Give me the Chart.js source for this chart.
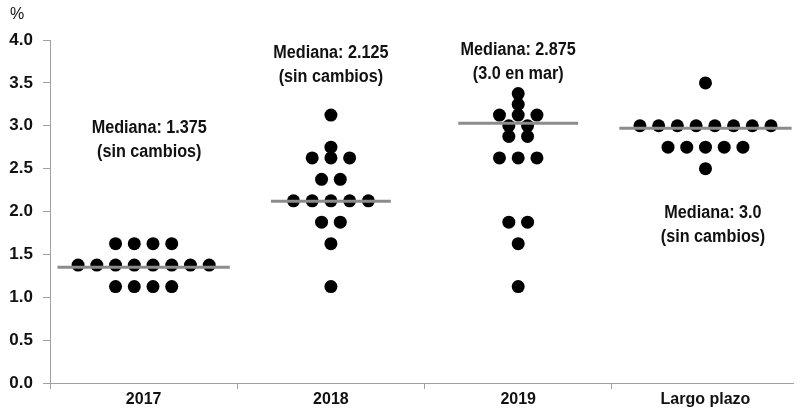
<!DOCTYPE html>
<html lang="es">
<head>
    <meta charset="UTF-8">
    <title>Mediana de proyecciones</title>
    <script src="https://cdn.jsdelivr.net/npm/chart.js"></script>
    <style>
        body { margin: 0; background: #fff; }
        #wrap { width: 800px; height: 410px; }
    </style>
</head>
<body>
<div id="wrap"><canvas id="dotChart"></canvas></div>

<script>
    // categories and one value per participant dot
    const categories = ['2017', '2018', '2019', 'Largo plazo'];
    const dots2017 = [1.625, 1.625, 1.625, 1.625,
        1.375, 1.375, 1.375, 1.375, 1.375, 1.375, 1.375, 1.375,
        1.125, 1.125, 1.125, 1.125];
    const dots2018 = [3.125, 2.75, 2.625, 2.625, 2.625, 2.375, 2.375,
        2.125, 2.125, 2.125, 2.125, 2.125, 1.875, 1.875, 1.625, 1.125];
    const dots2019 = [3.375, 3.25, 3.125, 3.125, 3.125, 3.0, 3.0, 2.875, 2.875,
        2.625, 2.625, 2.625, 1.875, 1.875, 1.625, 1.125];
    const dotsLargo = [3.5, 3.0, 3.0, 3.0, 3.0, 3.0, 3.0, 3.0, 3.0,
        2.75, 2.75, 2.75, 2.75, 2.75, 2.5];
    // grey median bars as drawn on the picture
    const medians = [1.35, 2.12, 3.03, 2.97];
    const medianText = [
        ['Mediana: 1.375', '(sin cambios)'],
        ['Mediana: 2.125', '(sin cambios)'],
        ['Mediana: 2.875', '(3.0 en mar)'],
        ['Mediana: 3.0', '(sin cambios)']
    ];

    const allDots = [dots2017, dots2018, dots2019, dotsLargo];
    const FONT = "'Liberation Sans', Arial, sans-serif";
    const STEP = 0.1;   // horizontal gap between dots sharing a value

    // spread dots of equal value side by side around the category centre
    function spread(values, i) {
        const groups = {};
        values.forEach(v => { (groups[v] = groups[v] || []).push(v); });
        const pts = [];
        let widest = 0;
        Object.values(groups).forEach(g => {
            widest = Math.max(widest, g.length);
            g.forEach((v, k) => pts.push({x: i + (k - (g.length - 1) / 2) * STEP, y: v}));
        });
        return {pts, widest};
    }

    const datasets = [];
    allDots.forEach((vals, i) => {
        const s = spread(vals, i);
        const half = Math.max((s.widest - 1) * STEP / 2 + 0.11, 0.32);
        datasets.push({
            type: 'line',
            data: [{x: i - half, y: medians[i]}, {x: i + half, y: medians[i]}],
            borderColor: '#8c8c8c',
            borderWidth: 3,
            pointRadius: 0,
            order: 0
        });
        datasets.push({
            type: 'scatter',
            data: s.pts,
            backgroundColor: '#000',
            borderWidth: 0,
            pointRadius: 6.5,
            order: 1
        });
    });

    const labelPos = [
        {dx: 0.03, y: 2.97},
        {dx: 0, y: 3.85},
        {dx: 0, y: 3.88},
        {dx: 0.04, y: 1.98}
    ];

    const textPlugin = {
        id: 'texts',
        afterDatasetsDraw(chart) {
            const {ctx, scales: {x, y}, chartArea} = chart;
            ctx.save();
            ctx.fillStyle = '#111';
            ctx.textAlign = 'center';
            ctx.textBaseline = 'middle';
            ctx.font = 'bold 18px ' + FONT;
            medianText.forEach((lines, i) => {
                const px = x.getPixelForValue(i + labelPos[i].dx);
                const py = y.getPixelForValue(labelPos[i].y);
                // the source lettering is slightly condensed
                ctx.save();
                ctx.translate(px, py);
                ctx.scale(0.9, 1);
                lines.forEach((t, k) => ctx.fillText(t, 0, k * 24));
                ctx.restore();
            });
            ctx.font = '16px ' + FONT;
            ctx.textAlign = 'left';
            ctx.fillText('%', chartArea.left - 40, chartArea.top - 25);
            ctx.restore();
        }
    };

    const ctx = document.getElementById('dotChart').getContext('2d');
    new Chart(ctx, {
        type: 'scatter',
        data: {datasets},
        plugins: [textPlugin],
        options: {
            responsive: true,
            maintainAspectRatio: false,
            animation: false,
            layout: {padding: {top: 40, left: 0, right: 0, bottom: 0}},
            plugins: {legend: {display: false}, tooltip: {enabled: false}},
            scales: {
                x: {
                    type: 'linear',
                    min: -0.5,
                    max: 3.47,
                    afterBuildTicks: s => {
                        s.ticks = [-0.5, 0, 0.5, 1, 1.5, 2, 2.5, 3].map(v => ({value: v}));
                    },
                    afterFit: s => { s.height = 27; },
                    border: {color: '#a0a0a0'},
                    grid: {
                        drawOnChartArea: false,
                        tickLength: 6,
                        color: c => Number.isInteger(c.tick && c.tick.value) ? 'rgba(0,0,0,0)' : '#a0a0a0'
                    },
                    ticks: {
                        autoSkip: false,
                        maxRotation: 0,
                        padding: 1,
                        color: '#111',
                        font: {family: FONT, size: 16, weight: 'bold'},
                        callback: v => Number.isInteger(v) ? categories[v] : ''
                    }
                },
                y: {
                    min: 0,
                    max: 4,
                    afterFit: s => { s.width = 50; },
                    border: {color: '#a0a0a0'},
                    grid: {drawOnChartArea: false, tickLength: 7, color: '#a0a0a0'},
                    ticks: {
                        stepSize: 0.5,
                        padding: 10,
                        color: '#111',
                        font: {family: FONT, size: 17, weight: 'bold'},
                        callback: v => v.toFixed(1)
                    }
                }
            }
        }
    });
</script>
</body>
</html>
